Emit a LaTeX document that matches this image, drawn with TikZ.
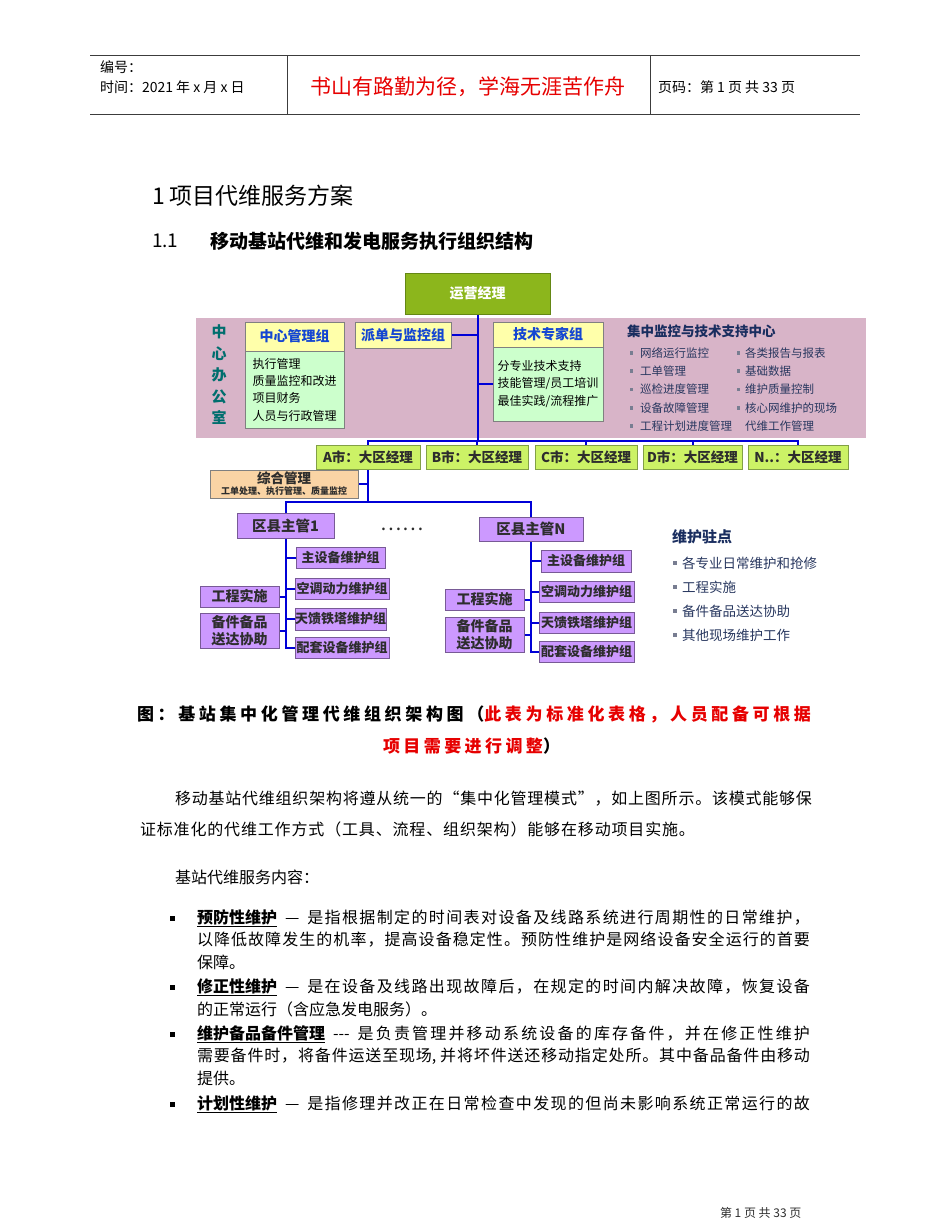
\documentclass[tikz,border=0pt]{standalone}
\usepackage{fontspec}
\setmainfont{Noto Sans CJK SC}
\usetikzlibrary{calc}
\newcount\mycc
\mycc="4E00
\loop \XeTeXcharclass\mycc=1 \advance\mycc 1 \ifnum\mycc<"A000 \repeat
\mycc="3000
\loop \XeTeXcharclass\mycc=1 \advance\mycc 1 \ifnum\mycc<"3040 \repeat
\mycc="FF00
\loop \XeTeXcharclass\mycc=1 \advance\mycc 1 \ifnum\mycc<"FF60 \repeat
\XeTeXcharclass"201C=1
\XeTeXcharclass"201D=1
\XeTeXinterchartokenstate=1
\XeTeXinterchartoks 1 1 = {\hskip 0pt plus 10pt\relax}
\definecolor{lineblue}{RGB}{0,0,215}
\definecolor{boxgray}{RGB}{128,128,128}
\definecolor{yel}{RGB}{255,255,170}
\definecolor{lgreen}{RGB}{204,255,204}
\definecolor{hblue}{RGB}{20,70,210}
\definecolor{bossfill}{RGB}{140,182,28}
\definecolor{bossbd}{RGB}{100,135,20}
\definecolor{band}{RGB}{216,180,200}
\definecolor{teal2}{RGB}{0,110,110}
\definecolor{navy}{RGB}{25,45,95}
\definecolor{navy2}{RGB}{40,55,95}
\definecolor{cityfill}{RGB}{204,242,102}
\definecolor{citybd}{RGB}{130,160,70}
\definecolor{darktxt}{RGB}{45,45,45}
\definecolor{orfill}{RGB}{250,212,165}
\definecolor{purfill}{RGB}{204,153,255}
\definecolor{purbd}{RGB}{120,90,150}
\definecolor{redt}{RGB}{230,0,0}
\definecolor{hdline}{RGB}{60,60,60}
\definecolor{bulgray}{RGB}{120,125,145}
\pgfdeclarelayer{bg}
\pgfsetlayers{bg,main}
\newcommand\bx[7]{\node[#6, minimum width={(#4-#2)*1pt}, minimum height={(#5-#3)*1pt}] (#1) at ({(#2+#4)/2},{(#3+#5)/2}) {#7};}
\newcommand\jl[2]{\makebox[#1pt][s]{#2}}
\newcommand\fs[1]{\fontsize{#1}{#1}\selectfont}
\newcommand\dsh[1]{\hspace*{8pt}#1\hspace*{8pt}}
\tikzset{
  base/.style={inner sep=0pt, outer sep=0pt, line width=0.8pt},
  bossbox/.style={base, draw=bossbd, fill=bossfill, text=white, font=\fs{14}\bfseries},
  ybox/.style={base, draw=boxgray, fill=yel, text=hblue, font=\fs{14}\bfseries},
  gbox/.style={base, draw=boxgray, fill=lgreen, align=left, font=\fontsize{12}{17.3}\selectfont},
  city/.style={base, draw=citybd, fill=cityfill, text=darktxt, font=\fs{13.5}\bfseries},
  obox/.style={base, draw=boxgray, fill=orfill},
  pbox/.style={base, draw=purbd, fill=purfill, text=darktxt, font=\fs{13}\bfseries},
  pbig/.style={base, draw=purbd, fill=purfill, text=darktxt, font=\fs{14.5}\bfseries},
  pside/.style={base, draw=purbd, fill=purfill, text=darktxt, align=center, font=\fontsize{14}{17}\selectfont\bfseries},
  bl/.style={draw=lineblue, line width=2pt, line cap=rect},
  txt/.style={inner sep=0pt, outer sep=0pt, anchor=west},
  hdl/.style={draw=hdline, line width=1pt},
}
\begin{document}
\begin{tikzpicture}[x=1pt,y=-1pt]
\useasboundingbox (0,0) rectangle (950,1230);
% ---------- header ----------
\coordinate (h1) at (90,56);
\coordinate (h2) at (860,56);
\coordinate (h3) at (90,115);
\coordinate (h4) at (860,115);
\coordinate (v1a) at (287,56);
\coordinate (v1b) at (287,115);
\coordinate (v2a) at (650,56);
\coordinate (v2b) at (650,115);
\draw[hdl] (h1) -- (h2);
\draw[hdl] (h3) -- (h4);
\draw[hdl] (v1a) -- (v1b);
\draw[hdl] (v2a) -- (v2b);
\node[txt, font=\fs{14}] (bianhao) at (100,67) {编号：};
\node[txt, font=\fs{14}] (shijian) at (100,87) {时间：2021 年 x 月 x 日};
\node[inner sep=0pt, font=\fs{21}, text=redt] (motto) at (468,87) {书山有路勤为径，学海无涯苦作舟};
\node[txt, font=\fs{14}] (yema) at (658,87) {页码：第 1 页 共 33 页};
% ---------- titles ----------
\node[txt, font=\fs{23}] (title) at (152,196) {1 项目代维服务方案};
\node[txt, font=\fs{19}] (sec) at (152,241) {1.1};
\node[txt, font=\fs{19}\bfseries] (sectitle) at (210,241) {移动基站代维和发电服务执行组织结构};
% ---------- diagram ----------
\bx{boss}{405}{273}{550}{314}{bossbox}{运营经理}
\bx{zxg}{245}{322}{344}{351}{ybox}{中心管理组}
\bx{zxgc}{245}{351}{344}{428}{gbox}{执行管理\\质量监控和改进\\项目财务\\人员与行政管理}
\bx{pd}{355}{322}{451}{348}{ybox}{派单与监控组}
\bx{js}{493}{322}{603}{347}{ybox}{技术专家组}
\bx{jsc}{493}{347}{603}{421}{gbox}{分专业技术支持\\技能管理/员工培训\\最佳实践/流程推广}
\node[inner sep=0pt, align=center, text=teal2, font=\fontsize{15}{21.5}\selectfont\bfseries] (office) at (219,375) {中\\心\\办\\公\\室};
\node[txt, text=navy, font=\fs{13.5}\bfseries] (center) at (627,331) {集中监控与技术支持中心};
\foreach \t [count=\i] in {网络运行监控,工单管理,巡检进度管理,设备故障管理,工程计划进度管理}{
  \pgfmathsetmacro\yy{334.5+\i*18.3}
  \fill[bulgray] (629.5,\yy-1.8) rectangle ++(3.6,3.6);
  \node[txt, text=navy2, font=\fs{11.5}] (ca\i) at (640,\yy) {\t};
}
\foreach \t [count=\i] in {各类报告与报表,基础数据,维护质量控制,核心网维护的现场}{
  \pgfmathsetmacro\yy{334.5+\i*18.3}
  \fill[bulgray] (736.5,\yy-1.8) rectangle ++(3.6,3.6);
  \node[txt, text=navy2, font=\fs{11.5}] (cb\i) at (745,\yy) {\t};
}
\node[txt, text=navy2, font=\fs{11.5}] (cb5) at (745,426) {代维工作管理};
% cities
\bx{cityA}{316}{445}{420}{469}{city}{A市：大区经理}
\bx{cityB}{426}{445}{528}{469}{city}{B市：大区经理}
\bx{cityC}{535}{445}{637}{469}{city}{C市：大区经理}
\bx{cityD}{643}{445}{742}{469}{city}{D市：大区经理}
\bx{cityN}{748}{445}{848}{469}{city}{N..：大区经理}
% zonghe
\bx{zh}{210}{470}{358}{498}{obox}{}
\node[inner sep=0pt, text=darktxt, font=\fs{13.5}\bfseries] (zht1) at (284,478.5) {综合管理};
\node[inner sep=0pt, text=darktxt, font=\fs{9}\bfseries] (zht2) at (284,491.5) {工单处理、执行管理、质量监控};
% county
\bx{q1}{237}{513}{334}{538}{pbig}{区县主管1}
\bx{qN}{479}{517}{583}{541}{pbig}{区县主管N}
\node[inner sep=0pt, font=\fs{20}, text=darktxt] (dots) at (402,529) {……};
\bx{m1}{296}{547}{385}{568}{pbox}{主设备维护组}
\bx{k1}{295}{578}{389}{599}{pbox}{空调动力维护组}
\bx{t1}{295}{608}{386}{630}{pbox}{天馈铁塔维护组}
\bx{p1}{295}{637}{389}{658}{pbox}{配套设备维护组}
\bx{g1}{200}{586}{279}{607}{pside}{工程实施}
\bx{b1}{200}{613}{279}{648}{pside}{备件备品\\送达协助}
\bx{m2}{541}{550}{631}{572}{pbox}{主设备维护组}
\bx{k2}{539}{581}{634}{602}{pbox}{空调动力维护组}
\bx{t2}{539}{612}{634}{633}{pbox}{天馈铁塔维护组}
\bx{p2}{539}{641}{634}{662}{pbox}{配套设备维护组}
\bx{g2}{445}{589}{524}{610}{pside}{工程实施}
\bx{b2}{445}{617}{524}{652}{pside}{备件备品\\送达协助}
% maintenance points
\node[txt, text=navy, font=\fs{15}\bfseries] (wh) at (672,537) {维护驻点};
\foreach \t [count=\i] in {各专业日常维护和抢修,工程实施,备件备品送达协助,其他现场维护工作}{
  \pgfmathsetmacro\yy{539+\i*24}
  \fill[bulgray] (673,\yy-2) rectangle ++(4,4);
  \node[txt, text=navy2, font=\fs{13.5}] (wp\i) at (682,\yy) {\t};
}
% background band and connectors
\begin{pgfonlayer}{bg}
  \fill[band] (196,318) rectangle (866,438);
  \coordinate (bus) at (477,441);
  \coordinate (jA) at (368,502);
  \draw[bl] (boss.south) -- (boss.south |- bus);
  \draw[bl] (pd.east) -- (pd.east -| boss.south);
  \draw[bl] ($(zxgc.north east)+(0,11)$) -- ($(zxgc.north east)+(0,11)$ -| boss.south);
  \draw[bl] (jsc.west) -- (jsc.west -| boss.south);
  \draw[bl] (cityA.north |- bus) -- (cityN.north |- bus);
  \foreach \c in {cityA,cityB,cityC,cityD,cityN}{
    \draw[bl] (\c.north |- bus) -- (\c.north);
  }
  \draw[bl] (cityA.south) -- (cityA.south |- jA);
  \draw[bl] (zh.east) -- (zh.east -| cityA.south);
  \draw[bl] (q1.north |- jA) -- (qN.north |- jA);
  \draw[bl] (q1.north |- jA) -- (q1.north);
  \draw[bl] (qN.north |- jA) -- (qN.north);
  \draw[bl] (q1.south) -- (q1.south |- p1.west);
  \foreach \n in {m1,k1,t1,p1}{\draw[bl] (\n.west) -- (\n.west -| q1.south);}
  \foreach \n in {g1,b1}{\draw[bl] (\n.east) -- (\n.east -| q1.south);}
  \draw[bl] (qN.south) -- (qN.south |- p2.west);
  \foreach \n in {m2,k2,t2,p2}{\draw[bl] (\n.west) -- (\n.west -| qN.south);}
  \foreach \n in {g2,b2}{\draw[bl] (\n.east) -- (\n.east -| qN.south);}
\end{pgfonlayer}
% ---------- caption ----------
\node[txt, font=\fs{17}\bfseries] (cap1) at (137,714) {\jl{674}{图：基站集中化管理代维组织架构图（\textcolor{redt}{此表为标准化表格，人员配备可根据}}};
\node[txt, font=\fs{17}\bfseries] (cap2) at (383,746) {\jl{177}{\textcolor{redt}{项目需要进行调整}）}};
% ---------- paragraph ----------
\node[txt, font=\fs{16}] (par1) at (175,799) {\jl{637}{移动基站代维组织架构将遵从统一的“集中化管理模式”，如上图所示。该模式能够保}};
\node[txt, font=\fs{16}] (par2) at (140,829) {\jl{555}{证标准化的代维工作方式（工具、流程、组织架构）能够在移动项目实施。}};
\node[txt, font=\fs{16}] (nr) at (175,877) {基站代维服务内容：};
% ---------- bullets ----------
\foreach \yy in {918,987,1034,1104}{\fill[black] (169.5,\yy-2.5) rectangle ++(5,5);}
\node[txt, font=\fs{16}] (a1) at (197,918) {\jl{613}{\underline{\bfseries 预防性维护}\dsh{—}是指根据制定的时间表对设备及线路系统进行周期性的日常维护，}};
\node[txt, font=\fs{16}] (a2) at (197,940) {\jl{613}{以降低故障发生的机率，提高设备稳定性。预防性维护是网络设备安全运行的首要}};
\node[txt, font=\fs{16}] (a3) at (197,962) {保障。};
\node[txt, font=\fs{16}] (b1t) at (197,987) {\jl{613}{\underline{\bfseries 修正性维护}\dsh{—}是在设备及线路出现故障后，在规定的时间内解决故障，恢复设备}};
\node[txt, font=\fs{16}] (b2t) at (197,1009) {的正常运行（含应急发电服务）。};
\node[txt, font=\fs{16}] (c1) at (197,1034) {\jl{613}{\underline{\bfseries 维护备品备件管理}\dsh{-{}-{}-}是负责管理并移动系统设备的库存备件，并在修正性维护}};
\node[txt, font=\fs{16}] (c2) at (197,1056) {\jl{613}{需要备件时，将备件运送至现场, 并将坏件送还移动指定处所。其中备品备件由移动}};
\node[txt, font=\fs{16}] (c3) at (197,1078) {提供。};
\node[txt, font=\fs{16}] (d1) at (197,1104) {\jl{613}{\underline{\bfseries 计划性维护}\dsh{—}是指修理并改正在日常检查中发现的但尚未影响系统正常运行的故}};
% ---------- footer ----------
\node[txt, font=\fs{12}, text=darktxt] (foot) at (720,1213) {第 1 页 共 33 页};
\end{tikzpicture}
\end{document}
